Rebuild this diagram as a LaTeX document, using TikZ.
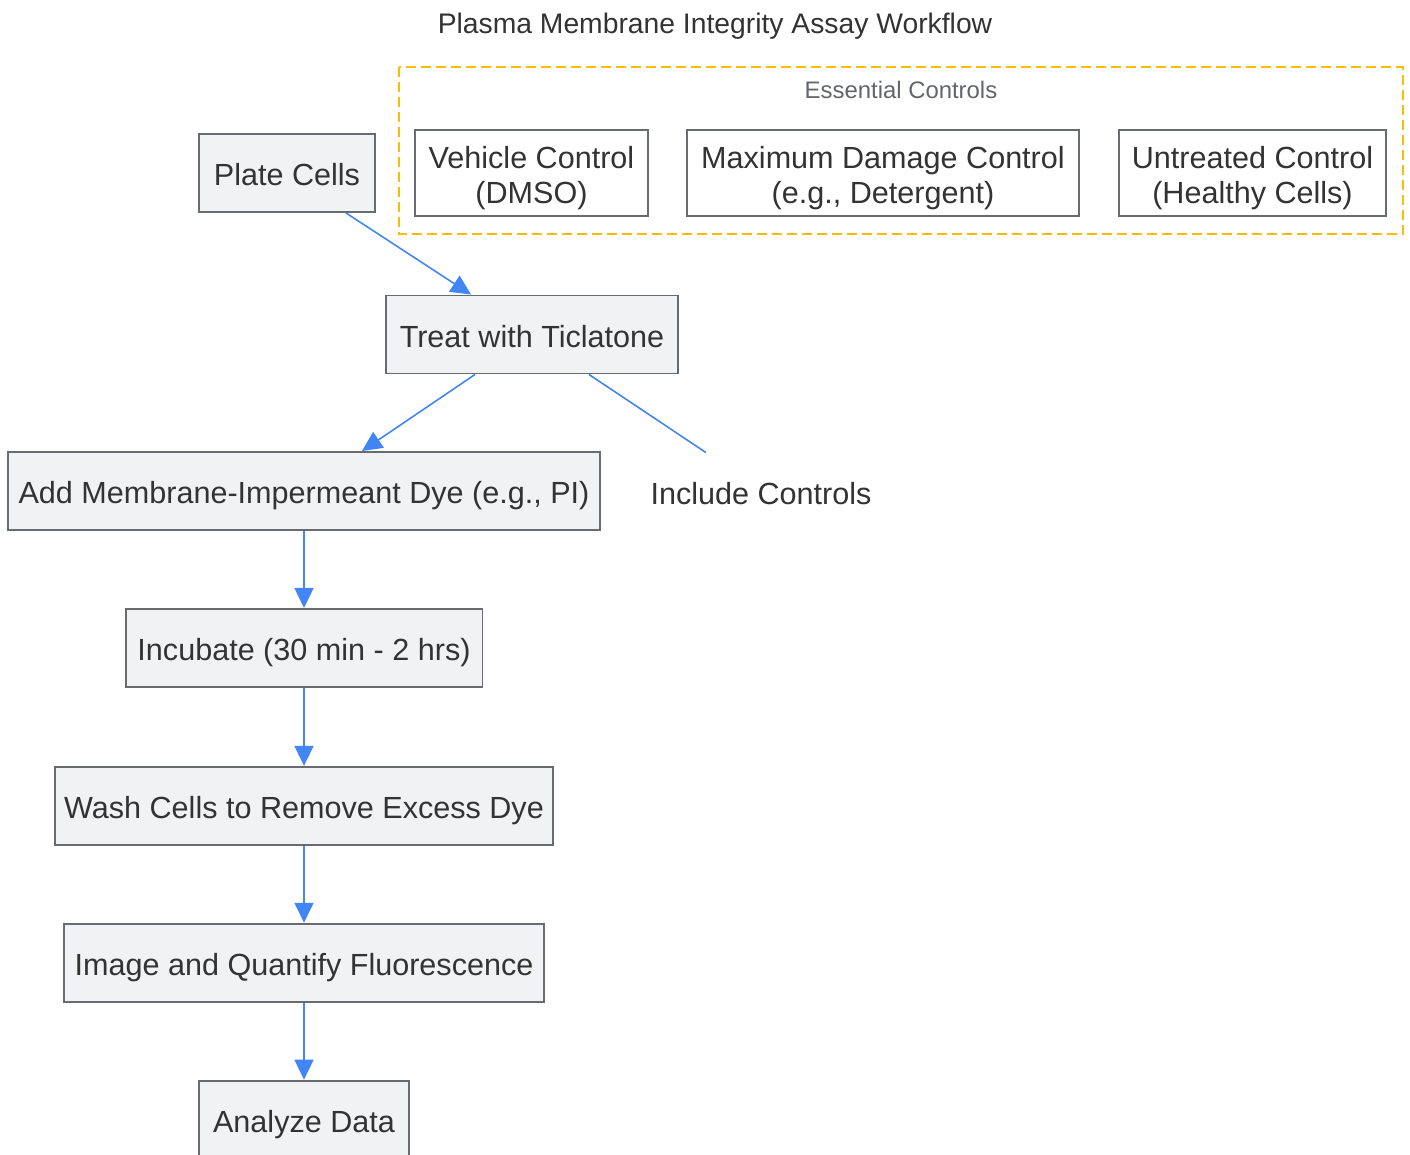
\documentclass[tikz,border=0pt]{standalone}
\usepackage{fontspec}
\setmainfont{Liberation Sans}
\usepackage{tikz}
\usetikzlibrary{arrows.meta, positioning}

\definecolor{stepfill}{HTML}{F1F2F4}
\definecolor{stepline}{HTML}{686B70}
\definecolor{textdark}{HTML}{333333}
\definecolor{flowblue}{HTML}{4285F4}
\definecolor{groupline}{HTML}{FBBC04}
\definecolor{grouptext}{HTML}{62666B}

\begin{document}
\begin{tikzpicture}[
      x=0.02cm, y=-0.02cm,
      stepbox/.style={rectangle, draw=stepline, line width=1.1pt, fill=stepfill, minimum height=1.56cm, inner sep=0pt, text height=18pt, text depth=3.7pt, align=center, text=textdark, font=\fontsize{17.4}{20}\selectfont},
      ctrlbox/.style={stepbox, fill=white, minimum height=1.72cm, text height=38.3pt},
      arrow/.style={-{Triangle[length=0.4cm, width=0.38cm]}, flowblue, line width=0.9pt},
      link/.style={flowblue, line width=0.9pt}
      ]

      \useasboundingbox (0,0) rectangle (1410,1154);

      % Title
      \node[text=textdark, font=\fontsize{16.1}{19}\selectfont] (title) at (715,26) {Plasma Membrane Integrity Assay Workflow};

      % Essential controls group
      \draw[groupline, line width=1.1pt, dash pattern=on 0.2cm off 0.1cm] (399,67) rectangle (1403,234);
      \node[text=grouptext, font=\fontsize{13.6}{16}\selectfont] (ctrltitle) at (901,90) {Essential Controls};
      \node[ctrlbox, minimum width=4.66cm] (vehicle) at (531.5,173) {Vehicle Control\\(DMSO)};
      \node[ctrlbox, minimum width=7.84cm] (maxdmg) at (883,173) {Maximum Damage Control\\(e.g., Detergent)};
      \node[ctrlbox, minimum width=5.34cm] (untreated) at (1252.5,173) {Untreated Control\\(Healthy Cells)};

      % Main workflow
      \node[stepbox, minimum width=3.52cm] (plate) at (287,173) {Plate Cells};
      \node[stepbox, minimum width=5.84cm] (treat) at (532,334.5) {Treat with Ticlatone};
      \node[stepbox, minimum width=11.84cm] (adddye) at (304,491) {Add Membrane-Impermeant Dye (e.g., PI)};
      \node[text=textdark, font=\fontsize{17.4}{20}\selectfont] (include) at (761,494) {Include Controls};
      \node[stepbox, minimum width=7.14cm, below=1.54cm of adddye] (incubate) {Incubate (30 min - 2 hrs)};
      \node[stepbox, minimum width=9.98cm, below=1.56cm of incubate] (wash) {Wash Cells to Remove Excess Dye};
      \node[stepbox, minimum width=9.62cm, below=1.54cm of wash] (image) {Image and Quantify Fluorescence};
      \node[stepbox, minimum width=4.2cm, below=1.54cm of image] (analyze) {Analyze Data};

      % Free end of the controls link
      \coordinate (inclend) at ([xshift=-1.1cm, yshift=0.48cm]include.north);

      % Arrows
      \draw[arrow] ([xshift=1.18cm]plate.south) -- ([xshift=-1.22cm]treat.north);
      \draw[arrow] ([xshift=-1.14cm]treat.south) -- ([xshift=1.16cm]adddye.north);
      \draw[link] ([xshift=1.14cm]treat.south) -- (inclend);
      \draw[arrow] (adddye) -- (incubate);
      \draw[arrow] (incubate) -- (wash);
      \draw[arrow] (wash) -- (image);
      \draw[arrow] (image) -- (analyze);

   \end{tikzpicture}
\end{document}
